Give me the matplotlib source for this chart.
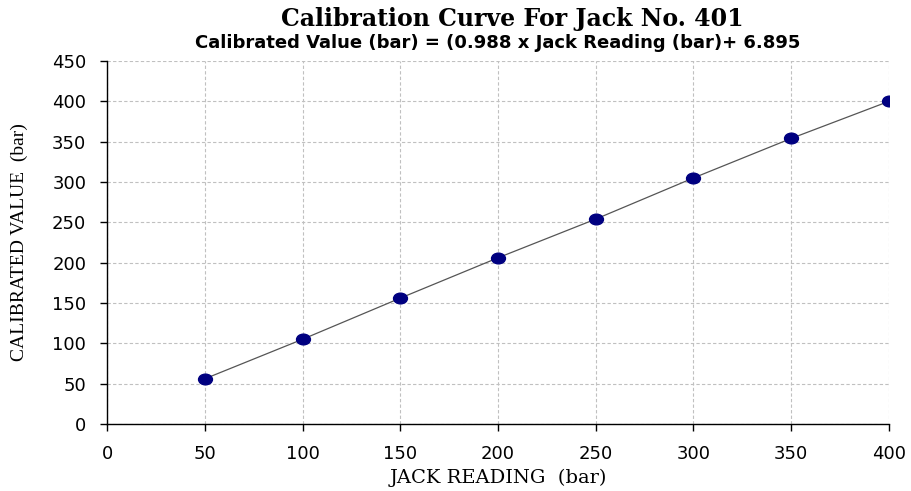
import numpy as np
import matplotlib.pyplot as plt
from matplotlib.path import Path
from matplotlib.transforms import Affine2D

jack = [50, 100, 150, 200, 250, 300, 350, 400]
calibrated = [56, 105, 156, 206, 254, 305, 354, 400]
xticks = [0, 50, 100, 150, 200, 250, 300, 350, 400]
yticks = [0, 50, 100, 150, 200, 250, 300, 350, 400, 450]

# slightly flattened dot, like the original
oval = Path.unit_circle().transformed(Affine2D().scale(1.3, 1.0))

fig = plt.figure(figsize=(9.11, 4.91), dpi=100)
ax = fig.add_axes([0.1175, 0.1365, 0.8583, 0.7393])

ax.plot(jack, calibrated, color='#555555', linewidth=0.9, zorder=2)
ax.plot(jack, calibrated, linestyle='none', marker=oval, markersize=10,
        markerfacecolor='#000080', markeredgecolor='#000080', zorder=3)

ax.set_xlim(0, 400)
ax.set_ylim(0, 450)
ax.set_xticks(xticks)
ax.set_yticks(yticks)
ax.grid(True, color='#c0c0c0', linestyle=(0, (3, 2)), linewidth=0.8)
ax.set_axisbelow(True)
for s in ['top', 'right']:
    ax.spines[s].set_visible(False)
for s in ['left', 'bottom']:
    ax.spines[s].set_linewidth(1.0)
ax.tick_params(direction='out', length=5, width=1, labelsize=13, pad=10)
for lab in ax.get_xticklabels() + ax.get_yticklabels():
    lab.set_family('DejaVu Sans')

ax.set_xlabel('JACK READING  (bar)', family='DejaVu Serif', fontsize=14, labelpad=4)
ax.set_ylabel('CALIBRATED VALUE  (bar)', family='Liberation Serif', fontsize=14, labelpad=17)

fig.text(0.562, 0.962, 'Calibration Curve For Jack No. 401', ha='center', va='center',
         family='DejaVu Serif', fontweight='bold', fontsize=17)
fig.text(0.546, 0.912, 'Calibrated Value (bar) = (0.988 x Jack Reading (bar)+ 6.895',
         ha='center', va='center', family='DejaVu Sans', fontweight='bold', fontsize=13)

plt.savefig('out.png', dpi=100)
